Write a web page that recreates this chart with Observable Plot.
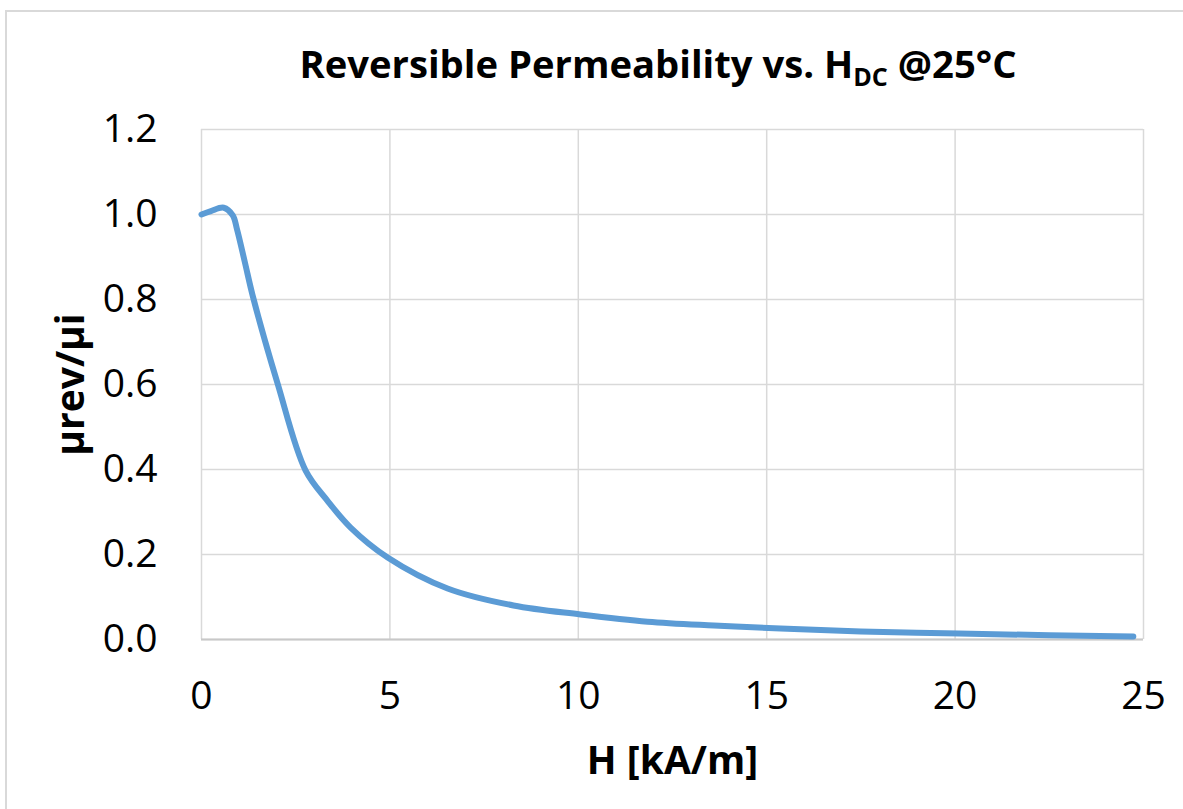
<!DOCTYPE html>
<html>
<head>
<meta charset="utf-8">
<script src="https://cdn.jsdelivr.net/npm/d3@7"></script>
<script src="https://cdn.jsdelivr.net/npm/@observablehq/plot@0.6"></script>
<style>
  html, body { margin: 0; padding: 0; background: #fff; }
  #wrap { position: relative; width: 1183px; height: 809px; overflow: hidden; font-family: "Open Sans", sans-serif; }
  #frame { position: absolute; left: 5px; top: 10px; width: 1400px; height: 1000px; border: 2px solid #d9d9d9; box-sizing: border-box; }
  #header { position: relative; height: 80px; }
  #title { position: absolute; left: 658px; top: 44px; white-space: nowrap; font-weight: 700; font-size: 38px; line-height: 1; color: #000; transform-origin: 0 0; }
  #title sub { font-size: 25px; vertical-align: -8px; line-height: 0; }
  #chart { position: relative; }
</style>
</head>
<body>
<div id="wrap">
  <div id="frame"></div>
  <div id="header"><div id="title">Reversible Permeability vs. H<sub>DC</sub> @25°C</div></div>
  <div id="chart"></div>
</div>
<script>
const H  = [0, 0.25, 0.59, 0.83, 0.94, 1.15, 1.37, 2.02, 2.76, 3.34, 3.95, 4.94, 6.53, 8.28, 10.06, 11.84, 13.6, 15.37, 17.5, 20.1, 22.5, 24.73];
const MU = [1.0, 1.008, 1.016, 0.998, 0.966, 0.888, 0.805, 0.602, 0.398, 0.327, 0.264, 0.193, 0.12, 0.08, 0.059, 0.042, 0.033, 0.026, 0.019, 0.014, 0.010, 0.007];
const xTicks = [0, 5, 10, 15, 20, 25];
const yTicks = [0, 0.2, 0.4, 0.6, 0.8, 1.0, 1.2];
const xLabel = "H [kA/m]";
const yLabel = "µrev/µi";

const data = H.map((h, i) => ({h, mu: MU[i]}));

const plot = Plot.plot({
  width: 1183,
  height: 729,
  marginLeft: 201,
  marginRight: 40,
  marginTop: 49,
  marginBottom: 170,
  style: { fontFamily: "Open Sans, sans-serif", fontSize: "39px", color: "#000", background: "transparent" },
  x: { domain: [0, 25] },
  y: { domain: [0, 1.2] },
  marks: [
    Plot.gridY(yTicks, { stroke: "#d9d9d9", strokeOpacity: 1, strokeWidth: 1.5 }),
    Plot.gridX(xTicks, { stroke: "#d9d9d9", strokeOpacity: 1, strokeWidth: 1.5 }),
    Plot.ruleY([0], { stroke: "#c8c8c8", strokeWidth: 2 }),
    Plot.axisY(yTicks, { tickSize: 0, tickPadding: 44, tickFormat: d3.format(".1f"), label: null, fontSize: 39, fill: "#000" }),
    Plot.axisX(xTicks, { tickSize: 0, tickPadding: 42, tickFormat: d3.format("d"), label: null, fontSize: 39, fill: "#000" }),
    Plot.line(data, { x: "h", y: "mu", stroke: "#5b9bd5", strokeWidth: 6, curve: "catmull-rom", strokeLinecap: "round", strokeLinejoin: "round" }),
    Plot.text([xLabel], { text: d => d, frameAnchor: "bottom", lineAnchor: "middle", textAnchor: "middle", dy: 122, fontWeight: 700, fontSize: 39, fill: "#000" }),
    Plot.text([yLabel], { text: d => d, frameAnchor: "left", lineAnchor: "middle", textAnchor: "middle", dx: -130, rotate: -90, fontWeight: 700, fontSize: 39, fill: "#000" })
  ]
});
document.getElementById("chart").appendChild(plot);

// fit title width to reference
const t = document.getElementById("title");
const w = t.getBoundingClientRect().width;
const target = 717;
const s = target / w;
t.style.transform = `translateX(${-target / 2}px) scaleX(${s})`;
</script>
</body>
</html>
